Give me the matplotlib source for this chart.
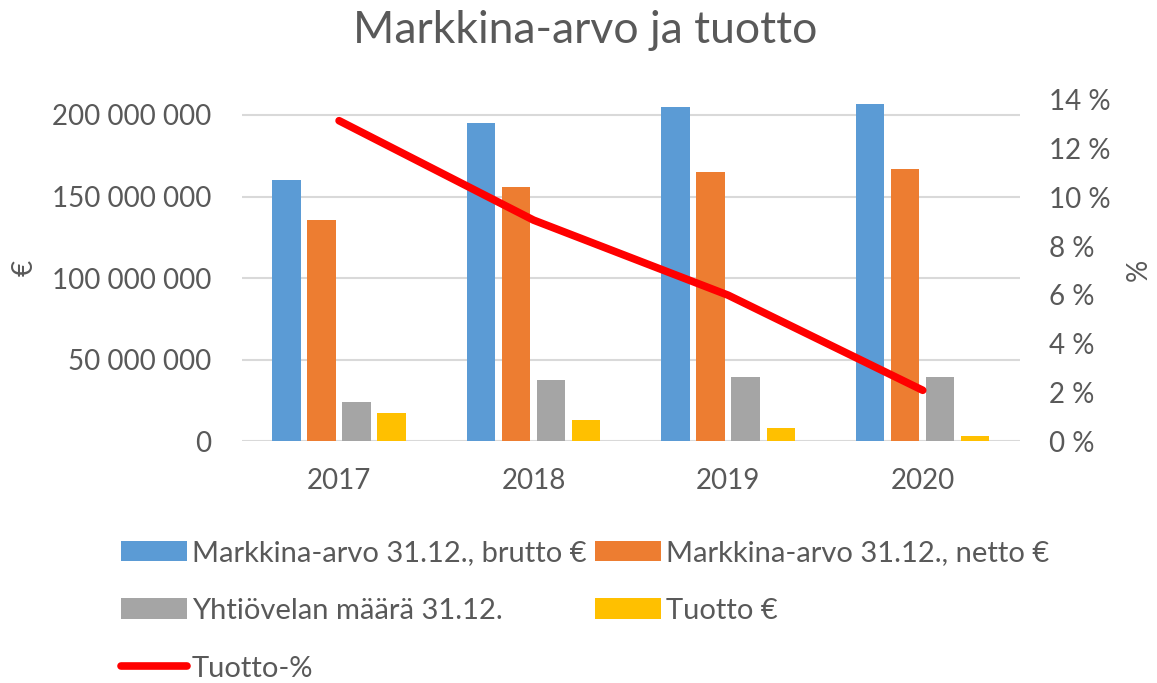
import numpy as np
import matplotlib.pyplot as plt
from matplotlib.ticker import FuncFormatter

plt.rcParams['font.family'] = ['Lato', 'DejaVu Sans']

# data
years = ['2017', '2018', '2019', '2020']
brutto = [160e6, 195e6, 205e6, 207e6]
netto = [135.6e6, 156e6, 165e6, 167e6]
velka = [24.1e6, 37.4e6, 39.5e6, 39.5e6]
tuotto_eur = [17e6, 12.9e6, 8.4e6, 3.3e6]
tuotto_pct = [13.15, 9.07, 5.99, 2.09]

TXT = '#595959'
colors = ['#5B9BD5', '#ED7D31', '#A5A5A5', '#FFC000']

fig = plt.figure(figsize=(11.57, 6.83), dpi=100)
ax = fig.add_axes([0.209, 0.354, 0.6726, 0.4996])
ax2 = ax.twinx()

x = np.arange(len(years))
w = 0.146
step = 0.18
series = [brutto, netto, velka, tuotto_eur]
names = ['Markkina-arvo 31.12., brutto €', 'Markkina-arvo 31.12., netto €',
         'Yhtiövelan määrä 31.12.', 'Tuotto €']
bars = []
for i, (vals, c, n) in enumerate(zip(series, colors, names)):
    b = ax.bar(x + (i - 1.5) * step, vals, w, color=c, label=n, zorder=2)
    bars.append(b)

ln, = ax2.plot(x, tuotto_pct, color='#FF0000', lw=5.5, solid_capstyle='round',
               solid_joinstyle='round', label='Tuotto-%', zorder=3)

ax.set_xlim(-0.5, 3.5)
ax.set_ylim(0, 209.2e6)
ax.set_yticks([0, 50e6, 100e6, 150e6, 200e6])
ax.yaxis.set_major_formatter(FuncFormatter(lambda v, p: f'{int(v):,}'.replace(',', ' ')))
ax2.set_ylim(0, 14)
ax2.set_yticks(range(0, 15, 2))
ax2.yaxis.set_major_formatter(FuncFormatter(lambda v, p: f'{int(v)} %'))

ax.set_xticks(x)
ax.set_xticklabels(years)
ax.grid(axis='y', color='#D9D9D9', lw=1.5, zorder=0)
ax.set_axisbelow(True)
for a in (ax, ax2):
    for s in a.spines.values():
        s.set_visible(False)
    a.tick_params(length=0, labelsize=20, colors=TXT)
ax.tick_params(axis='y', pad=22)
ax.tick_params(axis='x', pad=19)
ax2.tick_params(axis='y', pad=21)

# axis titles sit outside the tick labels
ax.set_ylabel('€', fontsize=20, color=TXT)
ax.yaxis.set_label_coords(-0.262, 0.507)
ax2.set_ylabel('%', fontsize=20, color=TXT, rotation=90)
ax2.yaxis.set_label_coords(1.136, 0.501)

fig.suptitle('Markkina-arvo ja tuotto', fontsize=32, color=TXT, y=0.985, x=0.506)

handles = [bars[0], bars[2], ln, bars[1], bars[3]]
labels = [names[0], names[2], 'Tuotto-%', names[1], names[3]]
leg = fig.legend(handles, labels, ncol=2, loc='upper left', bbox_to_anchor=(0.1046, 0.2093),
                 frameon=False, fontsize=21, labelcolor=TXT, handlelength=2.25,
                 handletextpad=0.17, columnspacing=0.3, labelspacing=1.09,
                 borderaxespad=0, borderpad=0)

fig.savefig('out.png', dpi=100)
